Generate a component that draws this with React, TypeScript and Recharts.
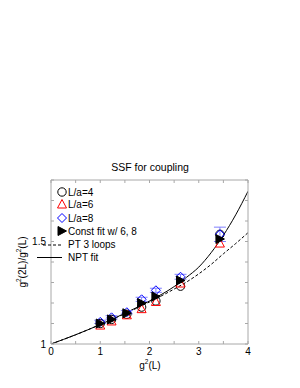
import React from "react";
import {
  ComposedChart,
  Scatter,
  Line,
  XAxis,
  YAxis,
  ErrorBar,
} from "recharts";

// ---- data ----
const couplings = [1.0, 1.23, 1.54, 1.84, 2.13, 2.63, 3.43];
const ssfL4 = [1.1, 1.12, 1.145, 1.18, 1.21, 1.282, 1.535];
const ssfL6 = [1.09, 1.11, 1.14, 1.17, 1.205, 1.295, 1.49];
const ssfL8 = [1.108, 1.13, 1.155, 1.218, 1.262, 1.328, 1.535];
const errL8 = [0.008, 0.008, 0.008, 0.01, 0.01, 0.012, 0.035];
const ssfConst = [1.1, 1.12, 1.15, 1.2, 1.232, 1.31, 1.512];

const curveX = [0, 0.5, 1, 1.5, 2, 2.5, 2.75, 3, 3.25, 3.5, 3.75, 4];
const nptFit = [1, 1.045, 1.095, 1.15, 1.21, 1.28, 1.325, 1.375, 1.445, 1.53, 1.63, 1.745];
const pt3Loops = [1, 1.045, 1.095, 1.148, 1.205, 1.268, 1.302, 1.342, 1.388, 1.44, 1.49, 1.543];

const xTicks = [0, 0.5, 1, 1.5, 2, 2.5, 3, 3.5, 4];
const yTicks = [1, 1.1, 1.2, 1.3, 1.4, 1.5, 1.6, 1.7, 1.8];
const xLabels = [0, 1, 2, 3, 4];
const yLabels = [1, 1.5];

const toPoints = (ys: number[], errs?: number[]) =>
  couplings.map((x, i) => ({ x, y: ys[i], e: errs ? errs[i] : 0 }));
const toCurve = (ys: number[]) => curveX.map((x, i) => ({ x, y: ys[i] }));

const FONT = "'Liberation Sans', Arial, Helvetica, sans-serif";
const AXIS = "#a8a8a8";

const CircleShape = (p: any) => (
  <circle cx={p.cx} cy={p.cy} r={4.2} fill="none" stroke="#000" strokeWidth={1} />
);
const TriShape = (p: any) => (
  <polygon
    points={`${p.cx},${p.cy - 5} ${p.cx - 4.5},${p.cy + 3.5} ${p.cx + 4.5},${p.cy + 3.5}`}
    fill="none"
    stroke="#ff0000"
    strokeWidth={1}
  />
);
const DiamondShape = (p: any) => (
  <polygon
    points={`${p.cx},${p.cy - 4.5} ${p.cx + 4.5},${p.cy} ${p.cx},${p.cy + 4.5} ${p.cx - 4.5},${p.cy}`}
    fill="none"
    stroke="#0000ff"
    strokeWidth={1}
  />
);
const RightTriShape = (p: any) => (
  <polygon
    points={`${p.cx - 4},${p.cy - 4.5} ${p.cx + 4.5},${p.cy} ${p.cx - 4},${p.cy + 4.5}`}
    fill="#000"
    stroke="#000"
    strokeWidth={1}
  />
);

const fmtX = (v: number) => (xLabels.includes(v) ? String(v) : "");
const fmtY = (v: number) => (yLabels.includes(v) ? String(v) : "");
const blank = () => "";

export default function App() {
  const tickStyle = { fontSize: 10, fill: "#000", fontFamily: FONT };
  return (
    <div style={{ position: "absolute", left: 0, top: 0, width: 300, height: 388, background: "#fff" }}>
      <ComposedChart
        width={300}
        height={388}
        margin={{ top: 170, right: 42, left: 0, bottom: 0 }}
      >
        <XAxis
          xAxisId={0}
          dataKey="x"
          type="number"
          domain={[0, 4]}
          ticks={xTicks}
          tickFormatter={fmtX}
          height={44}
          tickSize={-3}
          tickMargin={7}
          stroke={AXIS}
          tick={tickStyle}
          allowDataOverflow
        />
        <XAxis
          xAxisId="top"
          orientation="top"
          dataKey="x"
          type="number"
          domain={[0, 4]}
          ticks={xTicks}
          tickFormatter={blank}
          height={10}
          tickSize={-3}
          stroke={AXIS}
          tick={tickStyle}
          allowDataOverflow
        />
        <YAxis
          yAxisId={0}
          dataKey="y"
          type="number"
          domain={[1, 1.8]}
          ticks={yTicks}
          tickFormatter={fmtY}
          width={51}
          tickSize={-3}
          tickMargin={8}
          stroke={AXIS}
          tick={tickStyle}
          allowDataOverflow
        />
        <YAxis
          yAxisId="right"
          orientation="right"
          dataKey="y"
          type="number"
          domain={[1, 1.8]}
          ticks={yTicks}
          tickFormatter={blank}
          width={10}
          tickSize={-3}
          stroke={AXIS}
          tick={tickStyle}
          allowDataOverflow
        />
        <Line
          data={toCurve(pt3Loops)}
          dataKey="y"
          type="monotone"
          stroke="#000"
          strokeWidth={1}
          strokeDasharray="3 2"
          dot={false}
          isAnimationActive={false}
        />
        <Line
          data={toCurve(nptFit)}
          xAxisId="top"
          yAxisId="right"
          dataKey="y"
          type="monotone"
          stroke="#000"
          strokeWidth={1}
          dot={false}
          isAnimationActive={false}
        />
        <Scatter data={toPoints(ssfL4)} dataKey="y" shape={CircleShape} isAnimationActive={false} />
        <Scatter data={toPoints(ssfL6)} dataKey="y" shape={TriShape} isAnimationActive={false} />
        <Scatter data={toPoints(ssfL8, errL8)} dataKey="y" shape={DiamondShape} isAnimationActive={false}>
          <ErrorBar dataKey="e" direction="y" width={6} stroke="#8080ff" strokeWidth={1} />
        </Scatter>
        <Scatter data={toPoints(ssfConst)} dataKey="y" shape={RightTriShape} isAnimationActive={false} />
      </ComposedChart>
      <svg
        width={300}
        height={388}
        style={{ position: "absolute", left: 0, top: 0, pointerEvents: "none" }}
        fontFamily={FONT}
      >
        <text x={150} y={167} textAnchor="middle" dominantBaseline="central" fontSize={10.5} fill="#000">
          SSF for coupling
        </text>
        <text x={150} y={365} textAnchor="middle" dominantBaseline="central" fontSize={10} fill="#000">
          g<tspan fontSize={6.5} dy={-4}>2</tspan>
          <tspan dy={4}>(L)</tspan>
        </text>
        <text
          x={0}
          y={0}
          transform="translate(22,262) rotate(-90)"
          textAnchor="middle"
          dominantBaseline="central"
          fontSize={10}
          fill="#000"
        >
          g<tspan fontSize={6.5} dy={-4}>2</tspan>
          <tspan dy={4}>(2L)/g</tspan>
          <tspan fontSize={6.5} dy={-4}>2</tspan>
          <tspan dy={4}>(L)</tspan>
        </text>
        {/* legend */}
        <g fontSize={10} fill="#000">
          <circle cx={62} cy={192} r={4.2} fill="none" stroke="#000" />
          <text x={68} y={192} dominantBaseline="central">L/a=4</text>
          <polygon points="62,199.5 57.5,208 66.5,208" fill="none" stroke="#ff0000" />
          <text x={68} y={204.5} dominantBaseline="central">L/a=6</text>
          <polygon points="62,213.5 66.5,218 62,222.5 57.5,218" fill="none" stroke="#0000ff" />
          <text x={68} y={218} dominantBaseline="central">L/a=8</text>
          <polygon points="58,226.5 66.5,231 58,235.5" fill="#000" stroke="#000" />
          <text x={68} y={231} dominantBaseline="central">Const fit w/ 6, 8</text>
          <line x1={43} y1={245} x2={63} y2={245} stroke="#000" strokeDasharray="3 2" />
          <text x={68} y={244.5} dominantBaseline="central">PT 3 loops</text>
          <line x1={37} y1={257.5} x2={62} y2={257.5} stroke="#000" />
          <text x={68} y={257.5} dominantBaseline="central">NPT fit</text>
        </g>
      </svg>
    </div>
  );
}
